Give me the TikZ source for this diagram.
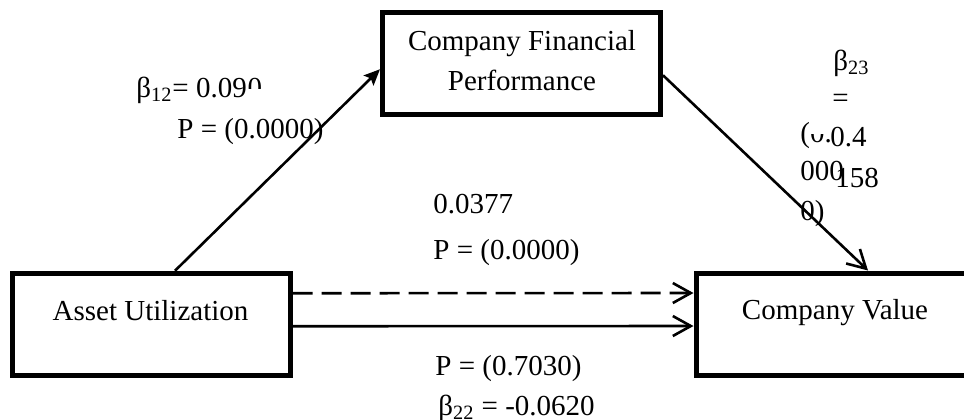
\documentclass[tikz,border=0pt]{standalone}
\usepackage{fontspec}
\setmainfont{Liberation Serif}
\usetikzlibrary{arrows.meta}
\begin{document}
\begin{tikzpicture}[x=0.5pt,y=-0.5pt,
  box/.style={draw,line width=2.5pt,minimum width=139pt,minimum height=51pt,inner sep=0pt},
  txt/.style={inner sep=0pt,anchor=base west,font=\fontsize{14.5pt}{17pt}\selectfont},
  ctxt/.style={txt,anchor=base},
  conn/.style={line width=1.3pt},
  openhead/.style={-{Straight Barb[length=9pt,width=10pt,line width=1.3pt]}},
  fillhead/.style={-{Stealth[length=8pt,width=7pt,inset=1.5pt]}}
]
\useasboundingbox (0,0) rectangle (964,419);

% boxes
\node[box] (cfp) at (521.5,63.25) {};
\node[box] (au) at (151,324.25) {};
\node[box] (cv) at (835,324) {};

% box texts
\node[ctxt] (cfpt1) at (522,50) {Company Financial};
\node[ctxt] (cfpt2) at (522,90) {Performance};
\node[ctxt] (aut) at (150.5,320) {Asset Utilization};
\node[ctxt] (cvt) at (835,319) {Company Value};

% labels
\node[txt] (b12) at (136,97) {β\textsubscript{12}= 0.09};
\begin{scope}
  \clip (200,60) rectangle (300,88);
  \node[txt] (b12c) at (b12.base east) {0};
\end{scope}
\node[txt] (p12) at (177,138) {P = (0.0000)};

\node[txt] (b23) at (833,70) {β\textsubscript{23}};
\node[txt] (b23eq) at (832,107) {=};
\node[txt] (b23a) at (830,146) {0.4};
\node[txt] (b23b) at (835,187) {158};
\begin{scope}
  \clip (790,120) -- (808,120) -- (808,134) -- (832,134) -- (832,155) -- (790,155) -- cycle;
  \node[txt] (p23a) at (800,142) {(0.};
\end{scope}
\node[txt] (p23b) at (800,180) {000};
\node[txt] (p23c) at (800,220) {0)};

\node[txt] (c1) at (433,213) {0.0377};
\node[txt] (c2) at (433,259) {P = (0.0000)};

\node[txt] (d1) at (435,375) {P = (0.7030)};
\node[txt] (d2) at (438,415) {β\textsubscript{22} = -0.0620};

% connectors
\draw[conn,fillhead] ([xshift=12pt]au.north) -- ([yshift=-3pt]cfp.west);
\draw[conn,openhead] ([yshift=-6pt]cfp.east) -- ([xshift=16.5pt]cv.north);
\draw[conn,openhead,dash pattern=on 10pt off 4.5pt] ([yshift=15.5pt]au.east) -- ([yshift=15.5pt]cv.west);
\draw[conn,openhead] ([yshift=-1pt]au.east) -- ([yshift=-1pt]cv.west);
\end{tikzpicture}
\end{document}
